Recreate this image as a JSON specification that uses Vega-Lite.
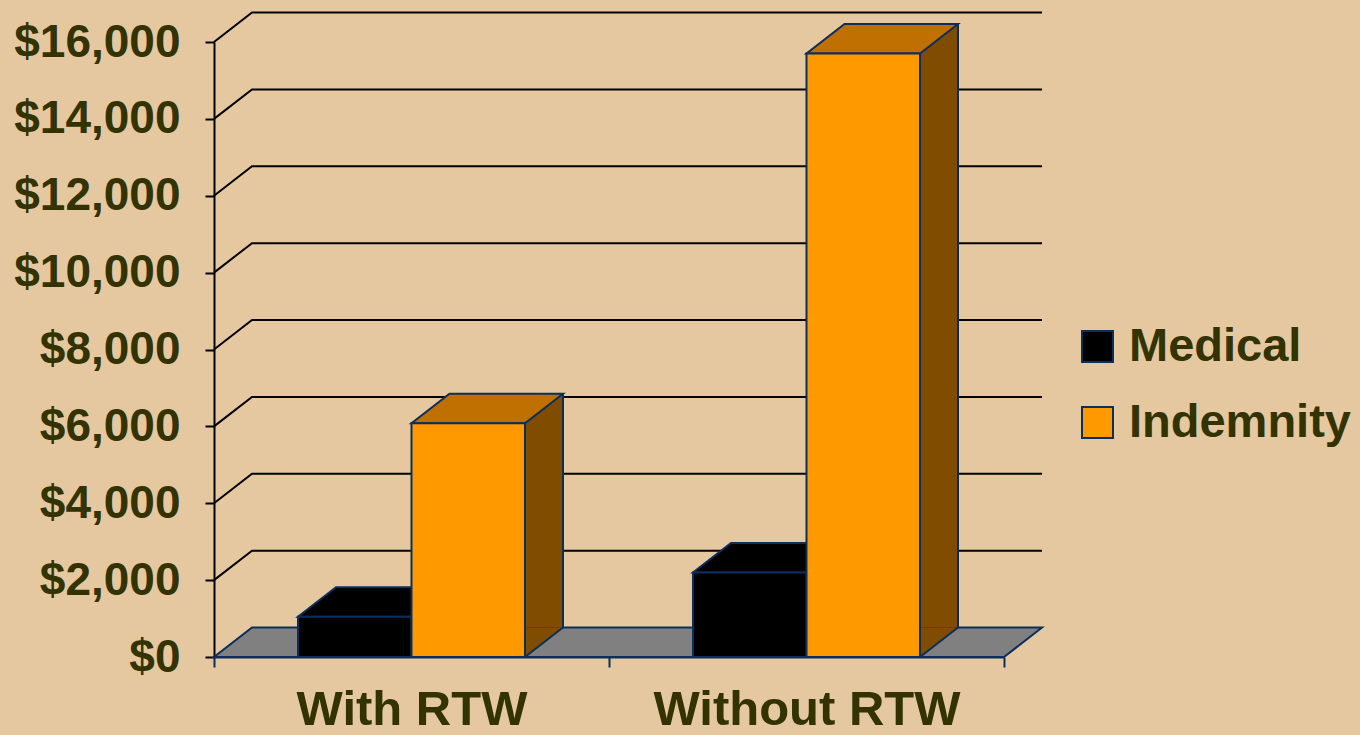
{
  "$schema": "https://vega.github.io/schema/vega-lite/v6.json",
  "width": 790,
  "height": 615,
  "autosize": {"type": "none"},
  "padding": {"left": 214, "top": 42, "right": 356, "bottom": 78},
  "background": "#E6C8A0",
  "config": {
    "view": {"stroke": null},
    "font": "Liberation Sans",
    "axisX": {"labelAngle": 0, "labelLimit": 0, "domainColor": "#0a2f5c", "domainWidth": 2, "tickColor": "#0a2f5c", "tickWidth": 2, "tickSize": 10, "tickBand": "extent", "labelFont": "Liberation Sans", "labelFontSize": 49, "labelFontWeight": "bold", "labelColor": "#333300", "labelBaseline": "alphabetic", "labelPadding": 57, "grid": false, "zindex": 1},
    "axisY": {"domainColor": "#000000", "domainWidth": 2, "tickColor": "#000000", "tickWidth": 2, "tickSize": 9, "labelFont": "Liberation Sans", "labelFontSize": 46, "labelFontWeight": "bold", "labelColor": "#333300", "labelPadding": 25, "grid": false, "zindex": 1}
  },
  "datasets": {
    "bars": [
      {"group": "With RTW", "series": "Medical", "value": 1050},
      {"group": "With RTW", "series": "Indemnity", "value": 6080},
      {"group": "Without RTW", "series": "Medical", "value": 2200},
      {"group": "Without RTW", "series": "Indemnity", "value": 15700}
    ],
    "grid": [
      {"v": 2000}, {"v": 4000}, {"v": 6000}, {"v": 8000},
      {"v": 10000}, {"v": 12000}, {"v": 14000}, {"v": 16000}
    ],
    "floor": [{"v": 0}]
  },
  "resolve": {"scale": {"xOffset": "independent"}},
  "layer": [
    {
      "data": {"name": "grid"},
      "mark": {"type": "point", "shape": "M 0 0 L 38 -29.5 L 828 -29.5", "size": 4, "filled": false, "stroke": "#000000", "strokeWidth": 2, "opacity": 1},
      "encoding": {
        "x": {"datum": "With RTW", "type": "nominal", "bandPosition": 0, "axis": {"title": null}},
        "y": {"field": "v", "type": "quantitative", "axis": {"title": null}}
      }
    },
    {
      "data": {"name": "floor"},
      "mark": {"type": "point", "shape": "M 0 0 L 790 0 L 828 -29.5 L 38 -29.5 Z", "size": 4, "filled": true, "fill": "#808080", "stroke": "#0a2f5c", "strokeWidth": 2, "opacity": 1},
      "encoding": {
        "x": {"datum": "With RTW", "type": "nominal", "bandPosition": 0, "axis": {"title": null}},
        "y": {"field": "v", "type": "quantitative", "axis": {"title": null}}
      }
    },
    {
      "data": {"name": "bars"},
      "mark": {"type": "bar", "width": 38, "yOffset": -29.5, "y2Offset": -29.5},
      "encoding": {
        "x": {"field": "group", "type": "nominal", "axis": {"title": null}},
        "xOffset": {"field": "series", "type": "nominal", "scale": {"type": "band", "domain": ["Medical", "Indemnity"], "paddingInner": 0, "paddingOuter": 0.7401, "range": [75.75, 470.75]}},
        "y": {"field": "value", "type": "quantitative", "axis": {"title": null}},
        "y2": {"datum": 0},
        "fill": {"condition": {"test": "datum.series === 'Indemnity'", "value": "#7F4C00"}, "value": "#000000"}
      }
    },
    {
      "data": {"name": "bars"},
      "mark": {"type": "point", "shape": "M 56.75 -29.5 L 56.75 0 L 94.75 -29.5 Z", "size": 4, "filled": true, "opacity": 1, "strokeWidth": 0},
      "encoding": {
        "x": {"field": "group", "type": "nominal", "axis": {"title": null}},
        "xOffset": {"field": "series", "type": "nominal", "scale": {"type": "band", "domain": ["Medical", "Indemnity"], "paddingInner": 0, "paddingOuter": 0.7401}},
        "y": {"datum": 0, "type": "quantitative", "axis": {"title": null}},
        "fill": {"condition": {"test": "datum.series === 'Indemnity'", "value": "#7F4C00"}, "value": "#000000"}
      }
    },
    {
      "data": {"name": "bars"},
      "mark": {"type": "point", "shape": "M 56.75 0 L 94.75 -29.5", "size": 4, "filled": false, "opacity": 1, "stroke": "#0a2f5c", "strokeWidth": 2},
      "encoding": {
        "x": {"field": "group", "type": "nominal", "axis": {"title": null}},
        "xOffset": {"field": "series", "type": "nominal", "scale": {"type": "band", "domain": ["Medical", "Indemnity"], "paddingInner": 0, "paddingOuter": 0.7401}},
        "y": {"datum": 0, "type": "quantitative", "axis": {"title": null}}
      }
    },
    {
      "data": {"name": "bars"},
      "mark": {"type": "rule", "yOffset": -29.5, "y2Offset": -29.5, "stroke": "#0a2f5c", "strokeWidth": 2},
      "encoding": {
        "x": {"field": "group", "type": "nominal", "axis": {"title": null}},
        "xOffset": {"field": "series", "type": "nominal", "scale": {"type": "band", "domain": ["Medical", "Indemnity"], "paddingInner": 0, "paddingOuter": 0.7401, "range": [94.75, 489.75]}},
        "y": {"field": "value", "type": "quantitative", "axis": {"title": null}},
        "y2": {"datum": 0}
      }
    },
    {
      "data": {"name": "bars"},
      "mark": {"type": "point", "shape": "M -56.75 0 L 56.75 0 L 94.75 -29.5 L -18.75 -29.5 Z", "size": 4, "filled": true, "opacity": 1, "stroke": "#0a2f5c", "strokeWidth": 2},
      "encoding": {
        "x": {"field": "group", "type": "nominal", "axis": {"title": null}},
        "xOffset": {"field": "series", "type": "nominal", "scale": {"type": "band", "domain": ["Medical", "Indemnity"], "paddingInner": 0, "paddingOuter": 0.7401}},
        "y": {"field": "value", "type": "quantitative", "axis": {"title": null}},
        "fill": {"condition": {"test": "datum.series === 'Indemnity'", "value": "#C07000"}, "value": "#000000"}
      }
    },
    {
      "data": {"name": "bars"},
      "mark": {"type": "bar", "stroke": "#0a2f5c", "strokeWidth": 2},
      "encoding": {
        "x": {
          "field": "group", "type": "nominal",
          "scale": {"type": "band", "domain": ["With RTW", "Without RTW"], "paddingInner": 0, "paddingOuter": 0},
          "axis": {"title": null}
        },
        "xOffset": {
          "field": "series", "type": "nominal",
          "scale": {"type": "band", "domain": ["Medical", "Indemnity"], "paddingInner": 0, "paddingOuter": 0.7401}
        },
        "y": {
          "field": "value", "type": "quantitative",
          "scale": {"domain": [0, 16000], "nice": false, "zero": true},
          "axis": {"title": null, "format": "$,.0f", "values": [0, 2000, 4000, 6000, 8000, 10000, 12000, 14000, 16000]}
        },
        "fill": {
          "field": "series", "type": "nominal",
          "scale": {"domain": ["Medical", "Indemnity"], "range": ["#000000", "#FF9900"]},
          "legend": {"title": null, "orient": "none", "legendX": 860, "legendY": 281, "padding": 0, "symbolType": "square", "symbolSize": 961, "symbolStrokeColor": "#0a2f5c", "symbolStrokeWidth": 2, "symbolOpacity": 1, "labelFont": "Liberation Sans", "labelFontSize": 47, "labelFontWeight": "bold", "labelColor": "#333300", "labelOffset": 8, "labelLimit": 0, "rowPadding": 28}
        }
      }
    }
  ]
}
